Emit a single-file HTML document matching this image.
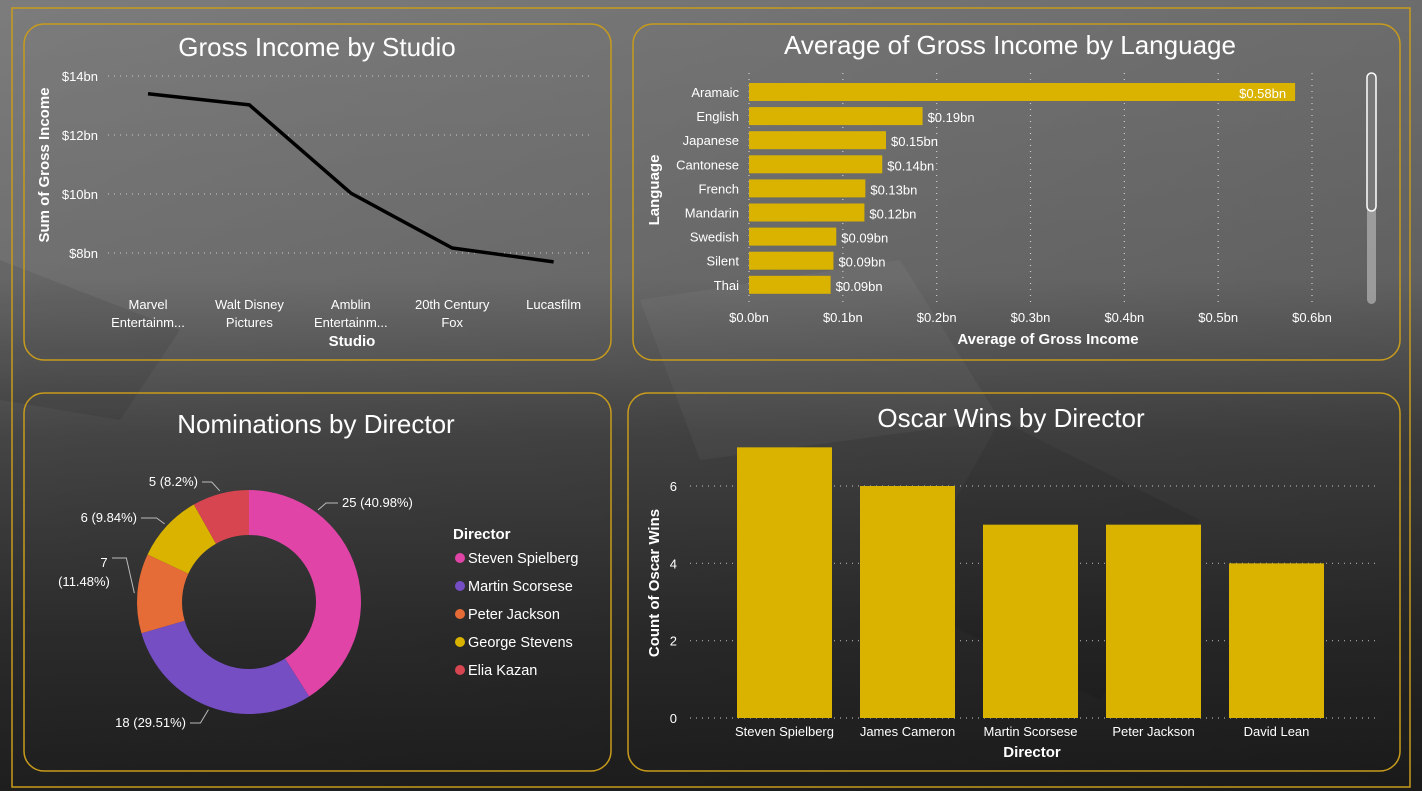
<!DOCTYPE html>
<html><head><meta charset="utf-8">
<style>
html,body{margin:0;padding:0;width:1422px;height:791px;overflow:hidden;}
body{background:linear-gradient(180deg,#7c7c7c 0%,#747474 35%,#4a4a4a 55%,#303030 80%,#222 100%);font-family:"Liberation Sans Narrow","Liberation Sans",sans-serif;}
svg text{font-family:"Liberation Sans Narrow","Liberation Sans",sans-serif;}
</style></head>
<body>
<svg width="1422" height="791" viewBox="0 0 1422 791">
<defs>
<linearGradient id="bgR" x1="0" y1="0" x2="1" y2="1"><stop offset="0" stop-color="#000" stop-opacity="0"/><stop offset="1" stop-color="#000" stop-opacity="0.25"/></linearGradient>
</defs>
<rect x="0" y="0" width="1422" height="791" fill="url(#bgR)"/>
<polygon points="0,260 180,330 120,420 0,400" fill="#000" opacity="0.08"/>
<polygon points="640,300 900,260 1000,420 700,460" fill="#fff" opacity="0.04"/>
<polygon points="1000,420 1200,520 1100,700 900,600" fill="#000" opacity="0.08"/>
<rect x="12" y="8" width="1398" height="779" fill="none" stroke="#c89b1c" stroke-width="1.5"/>

<rect x="24" y="24" width="587" height="336" rx="20" fill="none" stroke="#c89b1c" stroke-width="1.5"/>
<rect x="633" y="24" width="767" height="336" rx="20" fill="none" stroke="#c89b1c" stroke-width="1.5"/>
<rect x="24" y="393" width="587" height="378" rx="20" fill="none" stroke="#c89b1c" stroke-width="1.5"/>
<rect x="628" y="393" width="772" height="378" rx="20" fill="none" stroke="#c89b1c" stroke-width="1.5"/>

<text x="317" y="56" text-anchor="middle" font-size="26" fill="#fff">Gross Income by Studio</text>
<text x="1010" y="54" text-anchor="middle" font-size="26" fill="#fff">Average of Gross Income by Language</text>
<text x="316" y="433" text-anchor="middle" font-size="26" fill="#fff">Nominations by Director</text>
<text x="1011" y="427" text-anchor="middle" font-size="26" fill="#fff">Oscar Wins by Director</text>

<g id="line"></g>
<g id="lang"></g>
<g id="donut"></g>
<g id="oscar"></g>

<rect x="1367" y="73" width="9" height="231" rx="4.5" fill="#aaa" opacity="0.8"/>
<rect x="1367" y="73" width="9" height="138" rx="4.5" fill="#777" stroke="#fff" stroke-width="1.5"/>
</svg>
<script>
const NS="http://www.w3.org/2000/svg";
function mk(parent,tag,attrs,txt){const e=document.createElementNS(NS,tag);for(const k in attrs)e.setAttribute(k,attrs[k]);if(txt!==undefined)e.textContent=txt;parent.appendChild(e);return e;}

const studios=[["Marvel","Entertainm..."],["Walt Disney","Pictures"],["Amblin","Entertainm..."],["20th Century","Fox"],["Lucasfilm"]];
const studioIncome=[13.4,13.02,10.03,8.17,7.7];
const incomeTicks=[8,10,12,14];
const incomeTickLabels=["$8bn","$10bn","$12bn","$14bn"];

const languages=["Aramaic","English","Japanese","Cantonese","French","Mandarin","Swedish","Silent","Thai"];
const langAvg=[0.582,0.185,0.146,0.142,0.124,0.123,0.093,0.090,0.087];
const langLabels=["$0.58bn","$0.19bn","$0.15bn","$0.14bn","$0.13bn","$0.12bn","$0.09bn","$0.09bn","$0.09bn"];
const langTicks=[0,0.1,0.2,0.3,0.4,0.5,0.6];
const langTickLabels=["$0.0bn","$0.1bn","$0.2bn","$0.3bn","$0.4bn","$0.5bn","$0.6bn"];

const nomDirectors=["Steven Spielberg","Martin Scorsese","Peter Jackson","George Stevens","Elia Kazan"];
const nomValues=[25,18,7,6,5];
const nomColors=["#e044a7","#744ec2","#e66c37","#d9b300","#d64550"];

const oscarDirectors=["Steven Spielberg","James Cameron","Martin Scorsese","Peter Jackson","David Lean"];
const oscarWins=[7,6,5,5,4];
const oscarTicks=[0,2,4,6];

// ===== Line chart =====
(function(){
 const g=document.getElementById('line');
 const y=v=>253-(v-8)*(177/6);
 const x=i=>148+i*101.4;
 incomeTicks.forEach((t,i)=>{
  const l=mk(g,'line',{x1:108,x2:590,y1:y(t),y2:y(t),stroke:'#bbb','stroke-dasharray':'1 5','stroke-width':1.2});
  
  
  const tx=mk(g,'text',{x:98,y:y(t)+5,'text-anchor':'end','font-size':13,fill:'#fff'},incomeTickLabels[i]);
  
  
 });
 const pts=studioIncome.map((v,i)=>x(i)+','+y(v)).join(' ');
 const pl=mk(g,'polyline',{points:pts,fill:'none',stroke:'#000','stroke-width':3.5,'stroke-linejoin':'round'});
 
 
 studios.forEach((s,i)=>{
  s.forEach((ln,j)=>{
   const t=mk(g,'text',{x:x(i),y:309+j*18,'text-anchor':'middle','font-size':13,fill:'#fff'},ln);
   
   
  });
 });
 const xt=mk(g,'text',{x:352,y:346,'text-anchor':'middle','font-size':15,'font-weight':'bold',fill:'#fff'},'Studio');
 
 
 const yt=mk(g,'text',{x:0,y:0,transform:'translate(49,165) rotate(-90)','text-anchor':'middle','font-size':15,'font-weight':'bold',fill:'#fff'},'Sum of Gross Income');
 
 
})();

// ===== Language bars =====
(function(){
 const g=document.getElementById('lang');
 const x=v=>749+v*(563/0.6);
 const y=i=>83+i*24.1;
 langTicks.forEach((t,i)=>{
  const l=mk(g,'line',{x1:x(t),x2:x(t),y1:73,y2:303,stroke:'#ccc','stroke-dasharray':'1 5','stroke-width':1.2});
  
  
  const tx=mk(g,'text',{x:x(t),y:322,'text-anchor':'middle','font-size':13,fill:'#fff'},langTickLabels[i]);
  
  
 });
 languages.forEach((lang,i)=>{
  const r=mk(g,'rect',{x:x(0),y:y(i),width:x(langAvg[i])-x(0),height:18,fill:'#d9b300'});
  
  
  const lt=mk(g,'text',{x:739,y:y(i)+14,'text-anchor':'end','font-size':13,fill:'#fff'},lang);
  
  
  const inside=langAvg[i]>0.4;
  const vt=mk(g,'text',{x:inside?x(langAvg[i])-9:x(langAvg[i])+5,y:y(i)+15,'text-anchor':inside?'end':'start','font-size':13,fill:'#fff'},langLabels[i]);
  
  
 });
 const xt=mk(g,'text',{x:1048,y:344,'text-anchor':'middle','font-size':15,'font-weight':'bold',fill:'#fff'},'Average of Gross Income');
 
 
 const yt=mk(g,'text',{x:0,y:0,transform:'translate(659,190) rotate(-90)','text-anchor':'middle','font-size':15,'font-weight':'bold',fill:'#fff'},'Language');
 
 
})();

// ===== Donut =====
(function(){
 const g=document.getElementById('donut');
 const cx=249,cy=602,R=112,r=67;
 const total=nomValues.reduce((a,b)=>a+b,0);
 let a0=0;
 const pt=(a,rad)=>[cx+rad*Math.sin(a),cy-rad*Math.cos(a)];
 const labelPos=[[342,507,'start'],[186,727,'end'],[108,570,'end'],[137,522,'end'],[198,486,'end']];
 const leaderFrac=[0.25,0.5,0.5,0.5,0.5];
 nomValues.forEach((v,i)=>{
  const a1=a0+v/total*2*Math.PI;
  const large=(a1-a0)>Math.PI?1:0;
  const [x0,y0]=pt(a0,R),[x1,y1]=pt(a1,R),[x2,y2]=pt(a1,r),[x3,y3]=pt(a0,r);
  const p=mk(g,'path',{d:`M${x0},${y0} A${R},${R} 0 ${large} 1 ${x1},${y1} L${x2},${y2} A${r},${r} 0 ${large} 0 ${x3},${y3} Z`,fill:nomColors[i]});
  
  
  const mid=a0+(a1-a0)*leaderFrac[i];
  const [ex,ey]=pt(mid,R+3);
  const lp=labelPos[i];
  const pct=(v/total*100);
  const pctS=(Math.round(pct*100)/100).toString();
  const txt=v+' ('+pctS+'%)';
  const right=lp[2]=='start';
  const lx=right?lp[0]-4:lp[0]+4;
  const ly=(i===2)?558:lp[1]-4;
  const bend=right?ex+8:ex-8;
  const ln=mk(g,'polyline',{points:`${ex},${ey} ${bend},${ly} ${i===2?112:lx},${ly}`,fill:'none',stroke:'#bbb','stroke-width':1});
  
  
  if(i===2){
   const t1=mk(g,'text',{x:104,y:567,'text-anchor':'middle','font-size':13,fill:'#fff'},String(v));
   
   
   const t2=mk(g,'text',{x:84,y:586,'text-anchor':'middle','font-size':13,fill:'#fff'},'('+pctS+'%)');
   
   
  } else {
   const t=mk(g,'text',{x:lp[0],y:lp[1],'text-anchor':lp[2],'font-size':13,fill:'#fff'},txt);
   
   
  }
  a0=a1;
 });
 const lt=mk(g,'text',{x:453,y:539,'font-size':15,'font-weight':'bold',fill:'#fff'},'Director');
 
 
 nomDirectors.forEach((d,i)=>{
  const yy=558+i*28;
  const c=mk(g,'circle',{cx:460,cy:yy,r:5,fill:nomColors[i]});
  
  
  const t=mk(g,'text',{x:468,y:yy+5,'font-size':14.5,fill:'#fff'},d);
  
  
 });
})();

// ===== Oscar columns =====
(function(){
 const g=document.getElementById('oscar');
 const y=v=>718-v*(232/6);
 const x=i=>737+i*123;
 oscarTicks.forEach(t=>{
  const l=mk(g,'line',{x1:690,x2:1380,y1:y(t),y2:y(t),stroke:'#aaa','stroke-dasharray':'1 5','stroke-width':1.2});
  
  
  const tx=mk(g,'text',{x:677,y:y(t)+5,'text-anchor':'end','font-size':13,fill:'#fff'},String(t));
  
  
 });
 oscarDirectors.forEach((d,i)=>{
  const b=mk(g,'rect',{x:x(i),y:y(oscarWins[i]),width:95,height:y(0)-y(oscarWins[i]),fill:'#d9b300'});
  
  
  const t=mk(g,'text',{x:x(i)+47.5,y:736,'text-anchor':'middle','font-size':13,fill:'#fff'},d);
  
  
 });
 const xt=mk(g,'text',{x:1032,y:757,'text-anchor':'middle','font-size':15,'font-weight':'bold',fill:'#fff'},'Director');
 
 
 const yt=mk(g,'text',{x:0,y:0,transform:'translate(659,583) rotate(-90)','text-anchor':'middle','font-size':15,'font-weight':'bold',fill:'#fff'},'Count of Oscar Wins');
 
 
})();
</script>
</body></html>
